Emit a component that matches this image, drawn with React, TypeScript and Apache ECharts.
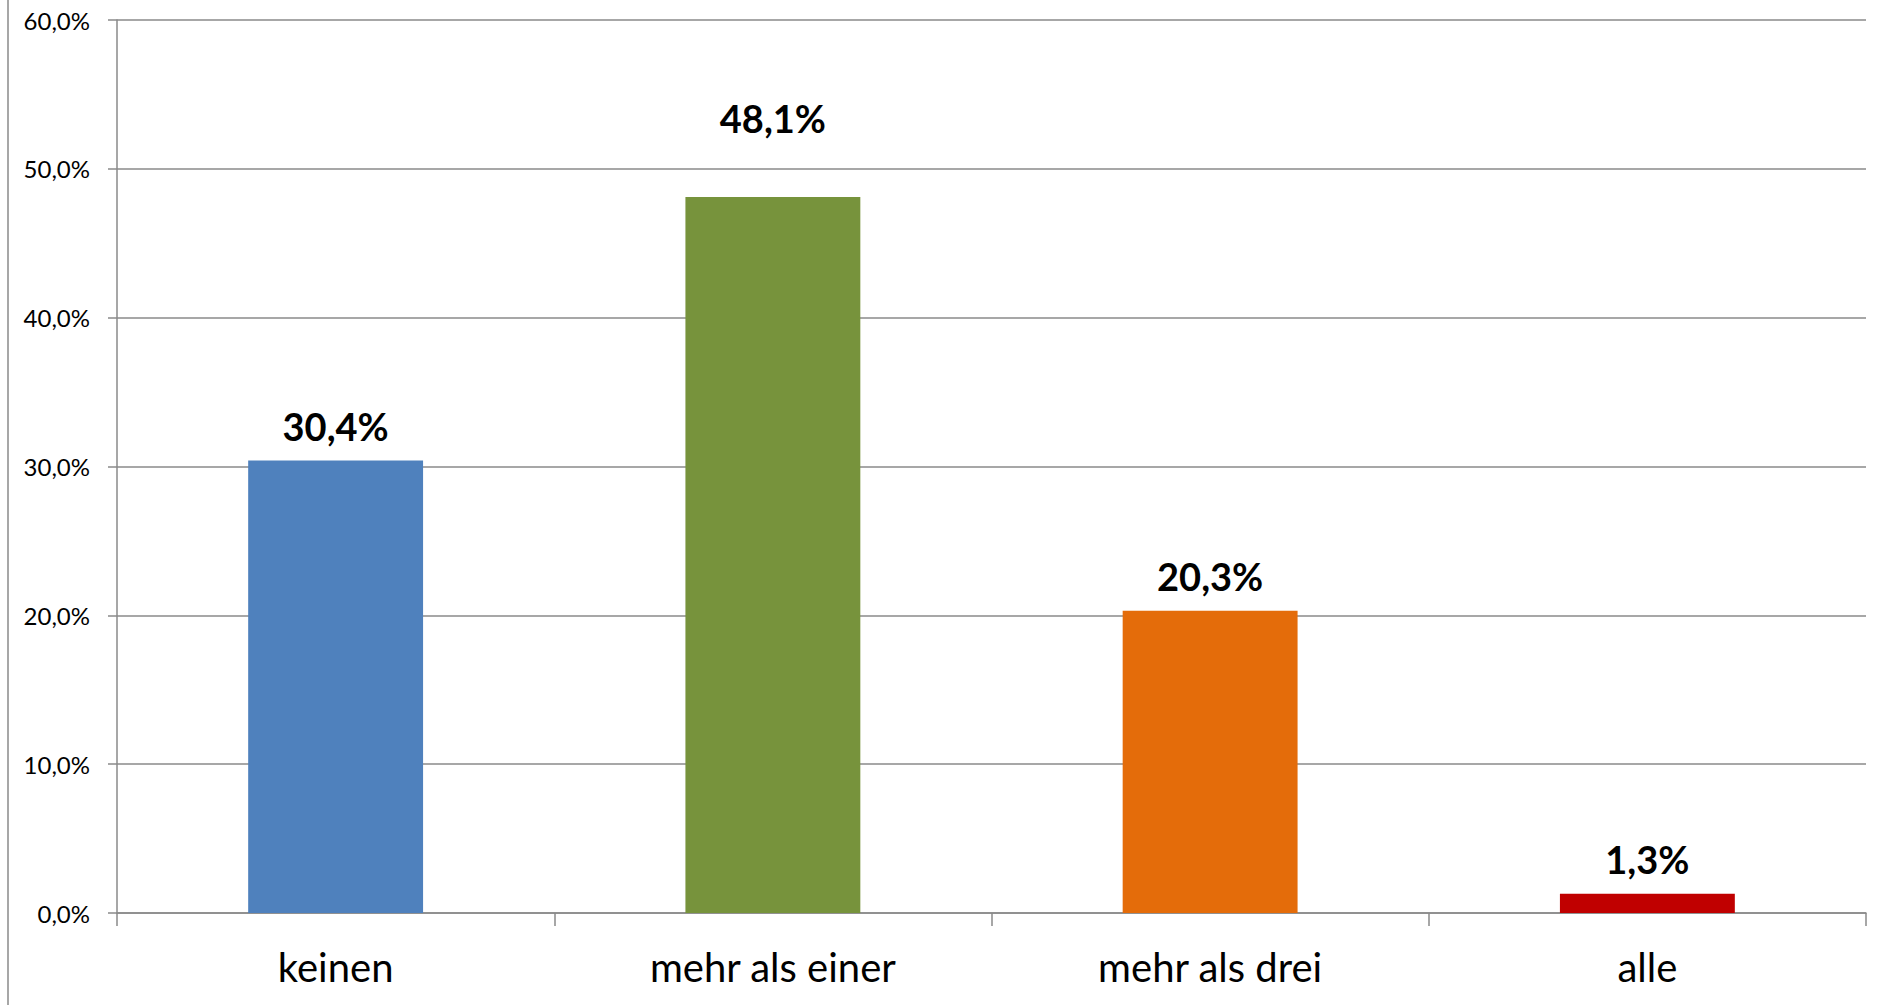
import React, { useEffect, useRef } from "react";
import * as echarts from "echarts";

const categories = ["keinen", "mehr als einer", "mehr als drei", "alle"];
const values = [30.4, 48.1, 20.3, 1.3];
const colors = ["#4F81BD", "#77933C", "#E46C0A", "#C00000"];
const labelDistances = [16, 60, 16, 16];
const yTicks = [0, 10, 20, 30, 40, 50, 60];

const fmt = (v: number) => v.toFixed(1).replace(".", ",") + "%";

export default function App() {
  const ref = useRef<HTMLDivElement>(null);
  useEffect(() => {
    document.body.style.margin = "0";
    const chart = echarts.init(ref.current!, undefined, { renderer: "svg" });
    const axisColor = "#8a8a8a";
    chart.setOption({
      animation: false,
      backgroundColor: "#ffffff",
      grid: { left: 117, right: 24, top: 20, bottom: 92, containLabel: false },
      xAxis: {
        type: "category",
        data: categories,
        boundaryGap: true,
        axisLine: { show: true, lineStyle: { color: axisColor, width: 1.5 } },
        axisTick: { show: true, length: 13, alignWithLabel: false, lineStyle: { color: axisColor, width: 1.5 } },
        axisLabel: {
          margin: 34,
          color: "#000",
          fontFamily: "Lato",
          fontSize: 40,
        },
        splitLine: { show: false },
      },
      yAxis: {
        type: "value",
        min: yTicks[0],
        max: yTicks[yTicks.length - 1],
        interval: 10,
        axisLine: { show: true, lineStyle: { color: axisColor, width: 1.5 } },
        axisTick: { show: true, length: 9, lineStyle: { color: axisColor, width: 1.5 } },
        axisLabel: {
          margin: 27,
          color: "#000",
          fontFamily: "Lato",
          fontSize: 24,
          formatter: (v: number) => fmt(v),
        },
        splitLine: { show: true, lineStyle: { color: axisColor, width: 1.5 } },
      },
      series: [
        {
          type: "bar",
          barWidth: "40%",
          data: values.map((v, i) => ({
            value: v,
            itemStyle: { color: colors[i] },
            label: { distance: labelDistances[i] },
          })),
          label: {
            show: true,
            position: "top",
            distance: 16,
            color: "#000",
            fontFamily: "Lato",
            fontWeight: "bold",
            fontSize: 38,
            formatter: (p: any) => fmt(p.value),
          },
        },
      ],
      graphic: [
        {
          type: "line",
          shape: { x1: 8, y1: 0, x2: 8, y2: 1005 },
          style: { stroke: axisColor, lineWidth: 1.5 },
        },
      ],
    });
    return () => chart.dispose();
  }, []);
  return <div ref={ref} style={{ position: "fixed", left: 0, top: 0, width: 1890, height: 1005 }} />;
}
